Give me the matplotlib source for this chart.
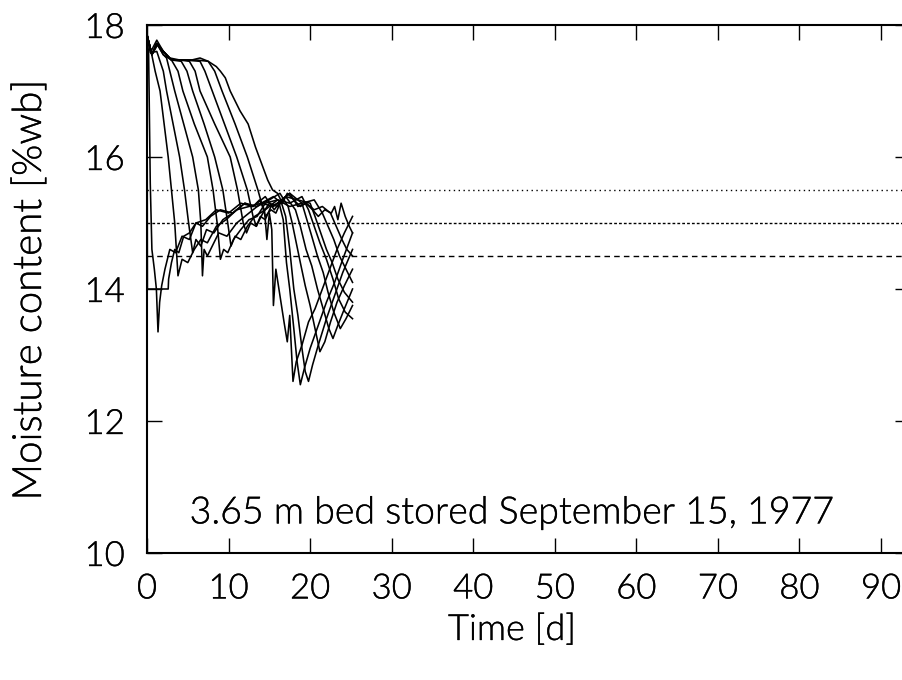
import matplotlib
matplotlib.use("Agg")
import matplotlib.pyplot as plt
from matplotlib import font_manager as fm
import matplotlib.patheffects as pe

# ---------------- data ----------------
x_ticks = [0, 10, 20, 30, 40, 50, 60, 70, 80, 90]
y_ticks = [10, 12, 14, 16, 18]
ref_levels = [15.5, 15.0, 14.5]
annotation = "3.65 m bed stored September 15, 1977"

t0 = [0, 0.05, 2.6, 2.65, 3.0, 3.4, 3.9, 4.5, 5.2, 6.0, 6.8, 7.8, 9.0, 10.5, 12.0, 13.0, 13.8, 14.4, 14.7, 15.0, 15.3, 15.5, 15.8, 16.3, 16.8, 17.2, 17.5, 17.9, 18.3, 19.0, 19.8, 20.6, 21.5, 22.4, 23.3, 24.2, 25.2]
m0 = [17.85, 14.0, 14.0, 14.15, 14.4, 14.6, 14.55, 14.8, 14.85, 15.0, 14.95, 15.1, 15.2, 15.15, 15.3, 15.25, 15.35, 15.2, 14.75, 15.15, 14.9, 13.75, 14.3, 13.9, 13.5, 13.2, 13.6, 12.6, 12.9, 13.15, 13.5, 13.7, 14.0, 14.3, 14.6, 14.85, 15.1]

t1 = [0, 0.2, 0.4, 0.6, 0.9, 1.15, 1.35, 1.55, 1.8, 2.2, 2.8, 3.5, 4.3, 5.2, 6.0, 7.2, 8.5, 10, 11.5, 13, 14.5, 15.6, 16.2, 16.7, 17.1, 17.5, 18.0, 18.4, 18.8, 19.3, 20.0, 21.0, 22.0, 23.0, 24.0, 25.2]
m1 = [17.85, 17.55, 15.6, 14.6, 14.3, 14.0, 13.35, 13.8, 14.05, 14.3, 14.6, 14.55, 14.8, 14.75, 15.0, 15.05, 15.2, 15.15, 15.3, 15.25, 15.4, 15.2, 15.3, 15.05, 14.4, 14.0, 13.4, 12.9, 12.55, 12.8, 13.1, 13.45, 13.8, 14.1, 14.45, 14.85]

t2 = [0, 0.5, 1.0, 1.6, 2.1, 2.6, 3.0, 3.4, 3.8, 4.3, 5.0, 5.8, 6.6, 7.4, 8.5, 9.7, 11, 12.5, 14, 15.5, 16.5, 17.0, 17.5, 18.0, 18.5, 19.0, 19.4, 19.8, 20.3, 21.0, 22.0, 23.0, 24.0, 25.2]
m2 = [17.85, 17.6, 17.3, 17.0, 16.5, 16.0, 15.5, 15.0, 14.2, 14.45, 14.4, 14.6, 14.75, 14.7, 14.95, 15.05, 15.2, 15.25, 15.3, 15.4, 15.3, 15.1, 14.6, 14.0, 13.6, 13.1, 12.75, 12.6, 12.85, 13.15, 13.55, 13.9, 14.25, 14.6]

t3 = [0, 0.5, 1.2, 2.0, 2.4, 3.2, 4.0, 4.6, 5.1, 5.6, 6.0, 6.6, 7.3, 8.2, 9.3, 10.5, 12, 13.5, 15, 16.3, 17.3, 17.8, 18.3, 18.8, 19.4, 20.0, 20.6, 21.2, 21.8, 22.5, 23.3, 24.2, 25.2]
m3 = [17.85, 17.58, 17.6, 17.3, 17.0, 16.5, 16.0, 15.5, 15.0, 14.55, 14.75, 14.65, 14.9, 14.85, 15.05, 15.15, 15.3, 15.25, 15.35, 15.45, 15.25, 15.0, 14.7, 14.4, 14.05, 13.75, 13.4, 13.05, 13.2, 13.5, 13.8, 14.05, 14.3]

t4 = [0, 0.6, 1.3, 2.0, 2.4, 2.8, 3.4, 4.5, 5.6, 6.3, 6.6, 6.8, 7.0, 7.4, 8.0, 8.8, 9.8, 11, 12.5, 14, 15.5, 17, 18.2, 18.8, 19.5, 20.2, 20.9, 21.6, 22.3, 22.8, 23.4, 24.2, 25.2]
m4 = [17.85, 17.55, 17.7, 17.55, 17.5, 17.3, 17.0, 16.5, 16.0, 15.5, 15.0, 14.2, 14.6, 14.5, 14.65, 14.85, 14.8, 15.0, 15.15, 15.3, 15.25, 15.4, 15.2, 14.95, 14.6, 14.35, 14.0, 13.7, 13.4, 13.25, 13.45, 13.7, 14.0]

t5 = [0, 0.6, 1.2, 2.0, 3.0, 3.8, 4.4, 5.8, 7.4, 8.1, 8.6, 9.0, 9.4, 9.9, 10.6, 11.5, 12.5, 13.5, 14.5, 16, 17.5, 19.0, 19.6, 20.2, 20.9, 21.6, 22.2, 22.9, 23.7, 24.4, 25.2]
m5 = [17.85, 17.55, 17.72, 17.55, 17.47, 17.3, 17.0, 16.5, 16.0, 15.5, 15.0, 14.45, 14.6, 14.55, 14.75, 14.9, 15.05, 15.1, 15.3, 15.35, 15.25, 15.3, 15.05, 14.8, 14.5, 14.25, 13.95, 13.65, 13.4, 13.55, 13.75]

t6 = [0, 0.6, 1.2, 2.0, 3.0, 4.2, 4.9, 5.6, 7.0, 8.3, 9.3, 9.9, 10.3, 10.8, 11.5, 12.3, 13.2, 14.5, 16, 17.5, 19, 19.8, 20.5, 21.2, 22.0, 22.8, 23.5, 24.3, 25.2]
m6 = [17.85, 17.55, 17.72, 17.6, 17.47, 17.45, 17.3, 17.0, 16.5, 16.0, 15.5, 15.0, 14.65, 14.8, 14.75, 14.95, 15.1, 15.2, 15.35, 15.3, 15.4, 15.2, 14.95, 14.7, 14.45, 14.15, 13.85, 13.65, 13.55]

t7 = [0, 0.6, 1.2, 2, 3, 4, 5.2, 5.9, 6.5, 8.3, 10.2, 11.1, 11.8, 12.2, 12.7, 13.4, 14.2, 15.0, 16.0, 17, 18.5, 20.0, 20.6, 21.3, 22.0, 22.7, 23.4, 24.2, 25.2]
m7 = [17.85, 17.55, 17.72, 17.6, 17.47, 17.47, 17.45, 17.3, 17.0, 16.5, 16.0, 15.5, 15.0, 14.85, 15.0, 14.95, 15.15, 15.3, 15.25, 15.4, 15.35, 15.3, 15.1, 14.85, 14.6, 14.4, 14.15, 13.95, 13.8]

t8 = [0, 0.6, 1.2, 2, 3, 4.5, 6.5, 7.1, 8.0, 9.5, 11.0, 12.3, 13.0, 13.4, 13.9, 14.5, 15.2, 16, 17.5, 19, 20.5, 21.5, 22.2, 22.9, 23.6, 24.4, 25.2]
m8 = [17.85, 17.55, 17.72, 17.6, 17.47, 17.47, 17.45, 17.3, 17.0, 16.5, 16.0, 15.5, 15.1, 14.95, 15.1, 15.05, 15.25, 15.3, 15.45, 15.3, 15.35, 15.15, 14.95, 14.75, 14.5, 14.3, 14.1]

t9 = [0, 0.6, 1.2, 2, 3, 4.5, 6, 7.5, 8.3, 9.2, 10.8, 12.3, 13.6, 14.5, 15.2, 15.8, 16.5, 17.5, 18.5, 19.5, 20.5, 21.5, 22.5, 23.2, 23.9, 24.5, 25.2]
m9 = [17.85, 17.55, 17.72, 17.6, 17.47, 17.47, 17.47, 17.45, 17.3, 17.0, 16.5, 16.0, 15.5, 15.1, 15.2, 15.15, 15.35, 15.45, 15.25, 15.3, 15.2, 15.25, 15.15, 14.95, 14.75, 14.6, 14.5]

t10 = [0, 0.4, 1.2, 2.0, 2.8, 4.0, 5.5, 6.5, 7.5, 8.5, 9.0, 9.6, 10.2, 11.4, 12.4, 13.3, 14.2, 14.8, 15.4, 16.0, 16.6, 17.2, 18.0, 18.8, 19.5, 20.3, 21.0, 21.8, 22.6, 23.0, 23.4, 23.8, 24.3, 24.8, 25.2]
m10 = [17.85, 17.58, 17.77, 17.6, 17.5, 17.47, 17.47, 17.5, 17.45, 17.37, 17.3, 17.2, 17.0, 16.7, 16.5, 16.15, 15.85, 15.65, 15.5, 15.45, 15.3, 15.45, 15.35, 15.25, 15.3, 15.2, 15.1, 15.2, 15.15, 15.25, 15.05, 15.3, 15.1, 14.95, 14.85]

curves = [(t0, m0), (t1, m1), (t2, m2), (t3, m3), (t4, m4), (t5, m5),
          (t6, m6), (t7, m7), (t8, m8), (t9, m9), (t10, m10)]

# ---------------- fonts ----------------
names = {f.name for f in fm.fontManager.ttflist}
fam = "Lato" if "Lato" in names else "DejaVu Sans"
wt = 300
plt.rcParams["font.family"] = [fam, "DejaVu Sans"]
plt.rcParams["font.weight"] = wt
fx = [pe.withStroke(linewidth=0.25, foreground="black")]

# ---------------- figure ----------------
W, H = 903, 680
fig = plt.figure(figsize=(W / 100, H / 100), dpi=100)
x0px, x1px = 147, 910
y0px, y1px = 553, 25
ax = fig.add_axes([x0px / W, 1 - y0px / H, (x1px - x0px) / W, (y0px - y1px) / H])
ax.set_xlim(0, 93.55)
ax.set_ylim(10, 18)

for t, m in curves:
    ax.plot(t, m, color="black", lw=1.15)

styles = [(0, (1, 2.5)), (0, (2, 1.5)), (0, (4, 3))]
for lev, ls in zip(ref_levels, styles):
    ax.axhline(lev, color="black", lw=1.0, linestyle=ls)

ax.set_xticks(x_ticks)
ax.set_yticks(y_ticks)
ax.tick_params(direction="in", length=11, width=1.0, top=True, right=True,
               labelsize=25, colors="black")
ax.tick_params(axis="x", pad=14)
ax.tick_params(axis="y", pad=16)
for lab in ax.get_xticklabels() + ax.get_yticklabels():
    lab.set_path_effects(fx)
    lab.set_fontweight(wt)
for sp in ax.spines.values():
    sp.set_linewidth(1.5)

ax.text(44.8, 10.6, annotation, ha="center", va="center", fontsize=27,
        fontweight=wt, path_effects=fx)

fig.text(512 / W, 1 - 630 / H, "Time [d]", ha="center", va="center",
         fontsize=26, fontweight=wt, path_effects=fx)
fig.text(30 / W, 1 - 290 / H, "Moisture content [%wb]", ha="center",
         va="center", rotation=90, fontsize=29, fontweight=wt, path_effects=fx)

fig.savefig("out.png", dpi=100)
